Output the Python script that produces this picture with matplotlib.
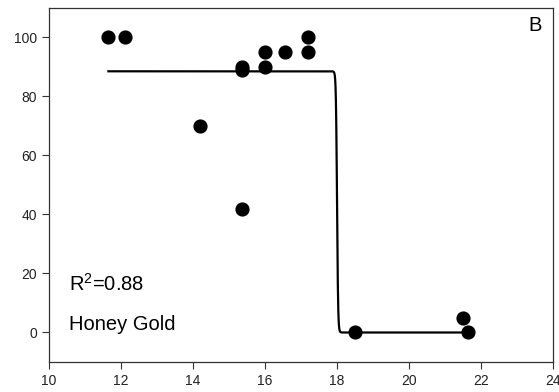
import numpy as np
import matplotlib.pyplot as plt

plt.rcParams['font.family'] = ['Liberation Sans', 'DejaVu Sans']
plt.rcParams['mathtext.fontset'] = 'custom'
plt.rcParams['mathtext.rm'] = 'Liberation Sans'

# observed points
temp = [11.65, 12.1, 14.2, 15.35, 15.35, 15.35, 16.0, 16.0, 16.55, 17.2, 17.2, 18.5, 21.5, 21.65]
pct = [100, 100, 70, 90, 89, 42, 95, 90, 95, 100, 95, 0, 5, 0]

# fitted sigmoid parameters
top = 88.5
bottom = 0.0
x50 = 18.0
slope = 0.015
r2 = 0.88
cultivar = "Honey Gold"
panel = "B"

xfit = np.linspace(min(temp), max(temp), 3000)
yfit = bottom + (top - bottom) / (1 + np.exp((xfit - x50) / slope))

fig = plt.figure(figsize=(5.59, 3.92), dpi=100)
ax = fig.add_axes([0.0877, 0.0765, 0.9016, 0.9035])

ax.plot(xfit, yfit, color='black', lw=1.6, zorder=2)
ax.plot(temp, pct, 'o', color='black', ms=9.2, zorder=3)

ax.set_xlim(10, 24)
ax.set_ylim(-10, 110)
ax.set_xticks(range(10, 25, 2))
ax.set_yticks(range(0, 101, 20))
ax.tick_params(direction='out', length=5, width=0.8, labelsize=10, colors='#333333', labelcolor='#222222')
for s in ax.spines.values():
    s.set_color('#333333')
    s.set_linewidth(0.9)

ax.text(0.039, 0.2, rf"R$^\mathrm{{2}}$={r2}", transform=ax.transAxes, fontsize=14.5, va='baseline')
ax.text(0.039, 0.09, cultivar, transform=ax.transAxes, fontsize=14.5, va='baseline')
ax.text(0.977, 0.935, panel, transform=ax.transAxes, fontsize=14.5, ha='right', va='baseline')

fig.savefig('out.png', dpi=100)
